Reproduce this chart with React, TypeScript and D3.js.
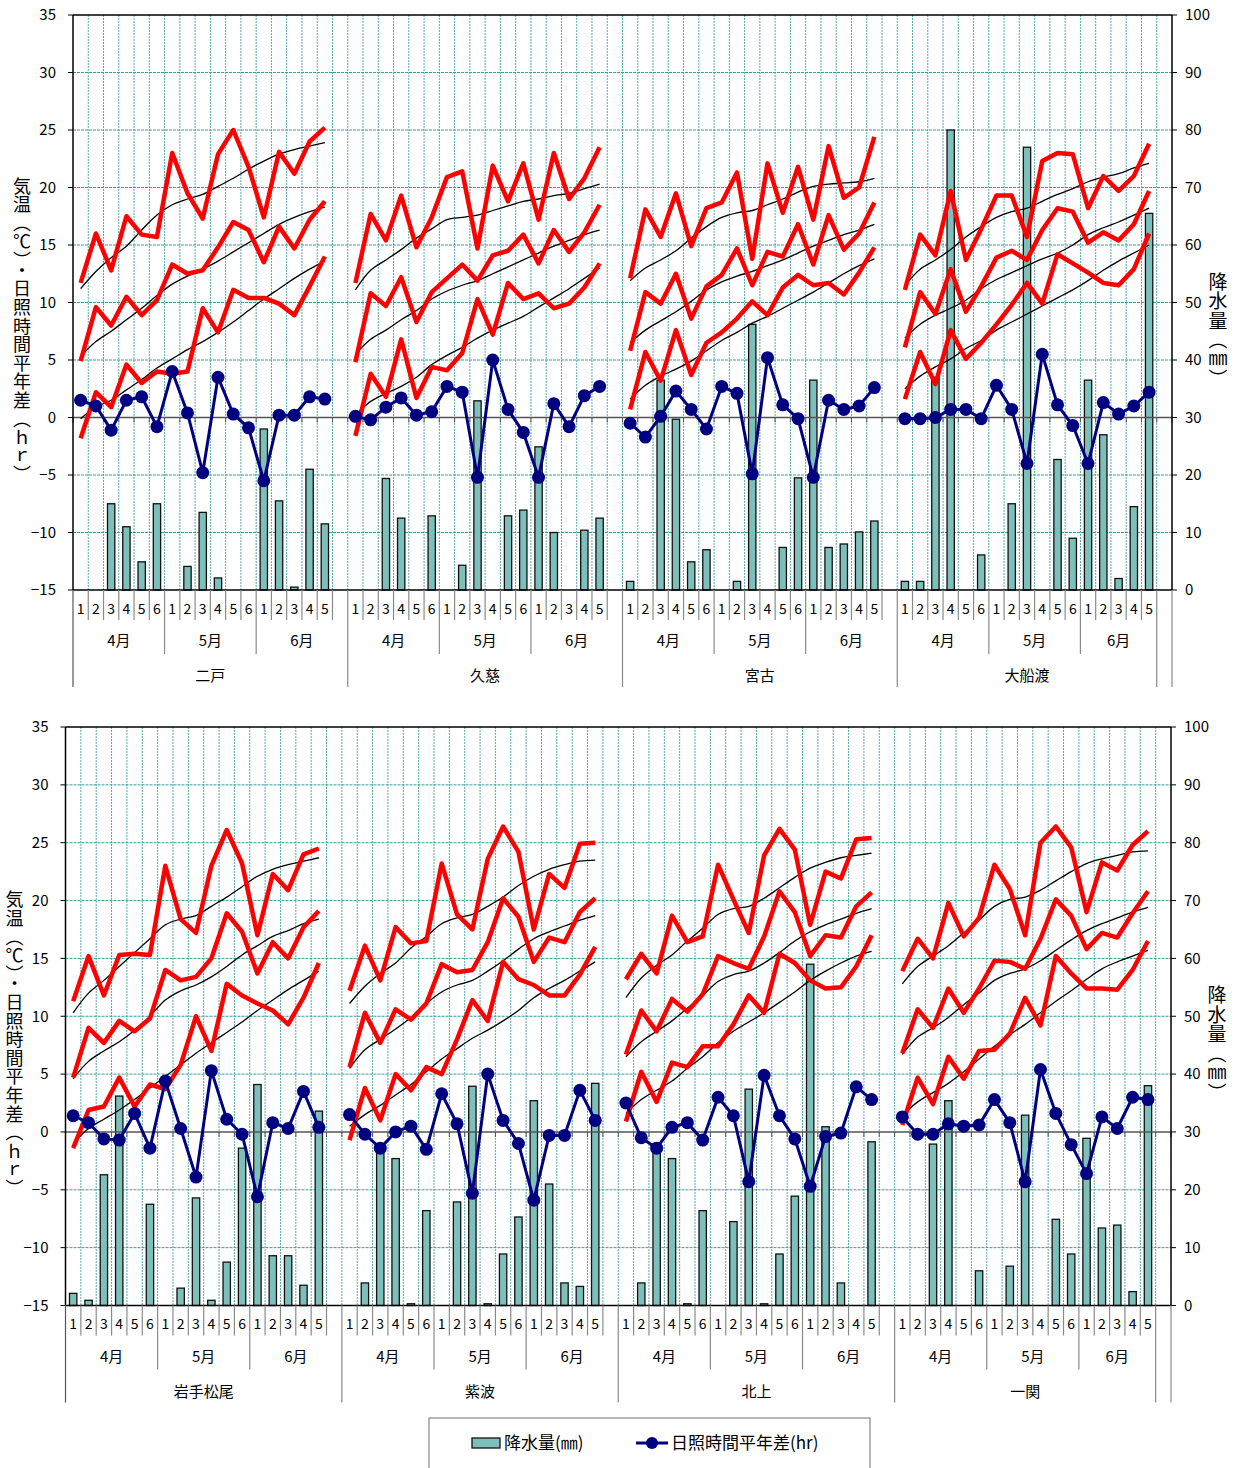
import React from 'react';
import * as d3 from 'd3';

const stations = ['二戸', '久慈', '宮古', '大船渡', '岩手松尾', '紫波', '北上', '一関'];
const periodLabels = ['1', '2', '3', '4', '5', '6', '1', '2', '3', '4', '5', '6', '1', '2', '3', '4', '5'];
const months = ['4月', '5月', '6月'];
const leftTicks = [-15, -10, -5, 0, 5, 10, 15, 20, 25, 30, 35];
const rightTicks = [0, 10, 20, 30, 40, 50, 60, 70, 80, 90, 100];

// 最高気温 (°C)
const tmax: number[][] = [
  [11.7, 16.0, 12.8, 17.5, 15.9, 15.7, 23.0, 19.5, 17.3, 22.9, 25.0, 21.8, 17.4, 23.1, 21.2, 24.0, 25.2],
  [11.7, 17.7, 15.4, 19.3, 14.8, 17.4, 20.9, 21.4, 14.7, 21.9, 18.8, 22.1, 17.2, 23.0, 19.0, 20.8, 23.5],
  [12.1, 18.1, 15.7, 19.5, 14.9, 18.2, 18.7, 21.3, 13.8, 22.1, 17.8, 21.8, 17.2, 23.6, 19.1, 20.0, 24.4],
  [11.1, 15.9, 14.1, 19.7, 13.7, 16.4, 19.3, 19.3, 15.7, 22.3, 23.0, 22.9, 18.2, 21.0, 19.7, 21.0, 23.8],
  [11.3, 15.2, 11.8, 15.3, 15.4, 15.3, 23.0, 18.4, 17.2, 23.0, 26.1, 23.2, 17.0, 22.3, 20.9, 24.0, 24.5],
  [12.2, 16.1, 13.1, 17.7, 16.3, 16.5, 23.2, 18.8, 17.5, 23.6, 26.4, 24.2, 17.5, 22.3, 21.1, 24.9, 25.0],
  [13.2, 15.4, 13.7, 18.7, 16.4, 16.9, 23.1, 20.1, 17.2, 23.9, 26.2, 24.4, 17.9, 22.5, 21.9, 25.3, 25.4],
  [13.9, 16.7, 15.0, 19.8, 16.9, 18.5, 23.1, 21.0, 17.0, 25.0, 26.4, 24.6, 19.0, 23.3, 22.6, 24.8, 26.0],
];
// 最高気温 平年値
const nmax: number[][] = [
  [11.2, 12.7, 13.9, 14.9, 16.3, 17.6, 18.5, 19.0, 19.4, 20.1, 20.8, 21.6, 22.3, 22.9, 23.3, 23.6, 23.9],
  [11.1, 12.8, 13.7, 14.6, 15.6, 16.4, 17.2, 17.4, 17.6, 18.0, 18.4, 18.8, 19.0, 19.3, 19.5, 19.9, 20.3],
  [11.9, 13.0, 13.7, 14.5, 15.6, 16.6, 17.4, 17.8, 18.0, 18.5, 19.0, 19.6, 20.1, 20.3, 20.4, 20.5, 20.8],
  [11.5, 12.9, 13.7, 14.6, 15.7, 16.6, 17.4, 17.9, 18.2, 18.8, 19.4, 19.9, 20.5, 20.9, 21.2, 21.7, 22.1],
  [10.3, 12.0, 13.1, 14.3, 15.5, 16.7, 17.9, 18.4, 18.7, 19.5, 20.3, 21.2, 22.1, 22.7, 23.1, 23.4, 23.7],
  [11.1, 12.6, 13.7, 14.6, 15.9, 16.9, 18.0, 18.5, 18.8, 19.5, 20.3, 21.3, 22.1, 22.7, 23.1, 23.4, 23.5],
  [11.6, 13.3, 14.4, 15.3, 16.5, 17.6, 18.8, 19.3, 19.5, 20.2, 21.1, 22.0, 22.8, 23.3, 23.7, 23.9, 24.1],
  [12.8, 14.3, 15.2, 16.1, 17.2, 18.3, 19.5, 20.1, 20.3, 20.9, 21.7, 22.5, 23.2, 23.6, 23.9, 24.2, 24.3],
];
// 平均気温
const tmean: number[][] = [
  [4.9, 9.6, 8.0, 10.5, 8.9, 10.2, 13.3, 12.5, 12.8, 14.8, 17.0, 16.3, 13.5, 16.6, 14.7, 17.2, 18.8],
  [4.8, 10.8, 9.7, 12.2, 8.3, 10.9, 12.1, 13.3, 11.9, 14.1, 14.5, 15.9, 13.4, 16.3, 14.4, 16.1, 18.5],
  [5.8, 10.9, 9.9, 12.5, 8.6, 11.4, 12.4, 14.7, 11.5, 14.4, 14.0, 16.8, 13.3, 17.6, 14.6, 16.0, 18.7],
  [6.1, 10.9, 9.0, 12.9, 9.2, 11.4, 13.9, 14.5, 13.7, 16.3, 18.2, 17.9, 15.2, 16.1, 15.4, 16.8, 19.7],
  [4.7, 9.0, 7.7, 9.6, 8.7, 9.8, 14.0, 13.1, 13.4, 15.0, 18.9, 17.3, 13.7, 16.4, 15.0, 17.7, 19.1],
  [5.6, 10.3, 7.7, 10.6, 9.7, 11.1, 14.5, 13.8, 14.0, 16.4, 20.2, 18.6, 14.7, 16.8, 16.4, 19.0, 20.2],
  [6.7, 10.5, 8.7, 11.5, 10.4, 11.9, 15.2, 14.6, 14.1, 16.9, 20.8, 19.0, 15.2, 17.0, 16.8, 19.5, 20.7],
  [6.8, 10.6, 9.0, 12.4, 10.3, 12.4, 14.8, 14.7, 14.1, 16.7, 20.1, 18.7, 15.8, 17.2, 16.8, 18.9, 20.8],
];
// 平均気温 平年値
const nmean: number[][] = [
  [5.3, 6.6, 7.5, 8.5, 9.5, 10.6, 11.6, 12.3, 12.9, 13.6, 14.4, 15.2, 16.0, 16.8, 17.4, 17.9, 18.3],
  [5.5, 6.8, 7.6, 8.5, 9.3, 10.3, 11.0, 11.5, 11.9, 12.5, 13.1, 13.7, 14.3, 14.9, 15.4, 15.9, 16.3],
  [6.5, 7.6, 8.4, 9.2, 10.1, 11.1, 11.8, 12.3, 12.7, 13.2, 13.7, 14.3, 14.9, 15.4, 15.9, 16.3, 16.8],
  [6.9, 8.1, 8.9, 9.5, 10.2, 11.2, 12.0, 12.6, 13.2, 13.8, 14.3, 15.0, 15.9, 16.5, 17.0, 17.6, 18.2],
  [4.6, 6.1, 7.0, 7.8, 8.8, 10.0, 11.4, 12.2, 12.7, 13.4, 14.3, 15.3, 16.1, 16.9, 17.4, 18.0, 18.4],
  [5.5, 7.1, 8.0, 8.9, 9.9, 11.1, 12.1, 12.7, 13.1, 13.9, 14.8, 15.8, 16.7, 17.3, 17.8, 18.3, 18.7],
  [6.5, 7.8, 8.7, 9.6, 10.7, 11.8, 13.0, 13.6, 13.9, 14.6, 15.5, 16.5, 17.3, 17.9, 18.4, 18.9, 19.3],
  [6.7, 8.2, 9.0, 9.9, 11.0, 12.0, 13.1, 13.7, 14.1, 14.8, 15.7, 16.6, 17.4, 18.0, 18.5, 19.0, 19.4],
];
// 最低気温
const tmin: number[][] = [
  [-1.8, 2.2, 0.9, 4.6, 3.0, 4.0, 3.8, 4.0, 9.5, 7.4, 11.1, 10.4, 10.4, 9.9, 8.9, 11.4, 14.0],
  [-1.6, 3.8, 1.8, 6.8, 1.7, 4.4, 4.1, 5.6, 10.3, 7.2, 11.7, 10.3, 10.8, 9.5, 9.9, 11.3, 13.4],
  [0.7, 5.7, 3.2, 7.6, 3.7, 6.5, 7.4, 8.6, 10.1, 8.9, 11.3, 12.4, 11.5, 11.7, 10.7, 12.6, 14.8],
  [1.6, 5.7, 2.9, 7.6, 5.1, 6.5, 8.1, 9.8, 11.7, 9.9, 14.2, 13.4, 12.6, 11.7, 11.5, 12.9, 16.0],
  [-1.4, 1.9, 2.2, 4.7, 2.2, 4.1, 3.7, 5.8, 10.0, 7.0, 12.8, 11.8, 11.1, 10.5, 9.3, 11.6, 14.6],
  [-0.7, 3.8, 1.0, 5.0, 3.6, 5.6, 5.0, 8.0, 11.4, 9.6, 14.7, 13.2, 12.7, 11.8, 11.8, 13.6, 16.0],
  [0.9, 5.2, 2.6, 6.0, 5.6, 7.4, 7.4, 9.3, 11.8, 10.3, 15.4, 14.6, 13.1, 12.4, 12.5, 14.3, 17.0],
  [0.6, 4.7, 2.4, 6.5, 4.6, 7.0, 7.1, 8.5, 11.6, 9.2, 15.2, 13.7, 12.4, 12.4, 12.3, 14.0, 16.5],
];
// 最低気温 平年値
const nmin: number[][] = [
  [-0.1, 0.9, 1.5, 2.4, 3.3, 4.3, 5.1, 5.9, 6.6, 7.4, 8.3, 9.3, 10.3, 11.2, 12.1, 12.9, 13.6],
  [0.2, 1.4, 2.1, 2.7, 3.5, 4.6, 5.4, 6.1, 6.9, 7.6, 8.2, 8.8, 9.6, 10.4, 11.2, 12.1, 13.0],
  [1.6, 2.8, 3.6, 4.2, 4.9, 5.8, 6.7, 7.4, 8.2, 8.8, 9.5, 10.2, 10.9, 11.7, 12.5, 13.2, 13.8],
  [2.5, 3.6, 4.4, 5.1, 6.0, 6.7, 7.6, 8.3, 9.0, 9.7, 10.4, 11.1, 11.9, 12.8, 13.6, 14.3, 15.0],
  [-1.0, 0.3, 1.1, 1.9, 2.8, 3.8, 4.8, 5.8, 6.8, 7.7, 8.6, 9.5, 10.5, 11.4, 12.3, 13.1, 13.9],
  [0.5, 1.5, 2.3, 3.2, 4.1, 5.2, 6.3, 7.2, 8.1, 8.8, 9.6, 10.5, 11.6, 12.4, 13.1, 13.9, 14.7],
  [1.6, 2.8, 3.6, 4.4, 5.5, 6.5, 7.7, 8.7, 9.5, 10.3, 11.2, 12.1, 13.1, 13.9, 14.6, 15.2, 15.6],
  [1.4, 2.6, 3.4, 4.2, 5.2, 6.3, 7.4, 8.4, 9.3, 10.3, 11.3, 12.2, 13.2, 14.1, 14.7, 15.2, 15.7],
];
// 日照時間平年差 (hr)
const sunshine: number[][] = [
  [1.5, 1.0, -1.1, 1.5, 1.8, -0.8, 4.0, 0.4, -4.8, 3.5, 0.3, -0.9, -5.5, 0.2, 0.2, 1.8, 1.6],
  [0.1, -0.2, 0.9, 1.7, 0.2, 0.5, 2.7, 2.2, -5.2, 5.0, 0.7, -1.3, -5.2, 1.2, -0.8, 1.9, 2.7],
  [-0.5, -1.7, 0.1, 2.3, 0.7, -1.0, 2.7, 2.1, -4.9, 5.2, 1.1, -0.1, -5.2, 1.5, 0.7, 1.0, 2.6],
  [-0.1, -0.1, 0.0, 0.7, 0.7, -0.1, 2.8, 0.7, -4.0, 5.5, 1.1, -0.7, -4.0, 1.3, 0.3, 1.0, 2.2],
  [1.4, 0.8, -0.6, -0.7, 1.6, -1.4, 4.4, 0.3, -3.9, 5.3, 1.1, -0.2, -5.6, 0.8, 0.3, 3.5, 0.4],
  [1.5, -0.2, -1.4, 0.0, 0.5, -1.5, 3.3, 0.7, -5.3, 5.0, 1.0, -1.0, -5.9, -0.3, -0.3, 3.6, 1.0],
  [2.5, -0.5, -1.4, 0.4, 0.8, -0.7, 3.0, 1.4, -4.3, 4.9, 1.4, -0.6, -4.7, -0.4, -0.1, 3.9, 2.8],
  [1.3, -0.2, -0.2, 0.7, 0.5, 0.6, 2.8, 0.8, -4.3, 5.4, 1.6, -1.1, -3.6, 1.3, 0.3, 3.0, 2.8],
];
// 降水量 (mm)
const precip: number[][] = [
  [0, 0, 15.0, 11.0, 4.9, 15.0, 0, 4.1, 13.5, 2.1, 0, 0, 28.0, 15.5, 0.5, 21.0, 11.5],
  [0, 0, 19.4, 12.5, 0, 12.9, 0, 4.3, 32.9, 0, 12.9, 13.9, 24.9, 10.0, 0, 10.4, 12.5],
  [1.5, 0, 36.5, 29.7, 4.9, 7.0, 0, 1.5, 46.2, 0, 7.4, 19.5, 36.5, 7.4, 8.0, 10.1, 12.0],
  [1.5, 1.5, 37.0, 80.0, 0, 6.1, 0, 15.0, 77.0, 0, 22.7, 9.0, 36.5, 27.0, 2.0, 14.5, 65.5],
  [2.1, 0.9, 22.6, 36.2, 0, 17.5, 0, 3.0, 18.6, 0.9, 7.5, 27.2, 38.2, 8.6, 8.6, 3.5, 33.6],
  [0, 3.9, 26.6, 25.4, 0.3, 16.4, 0, 17.9, 37.9, 0.3, 8.9, 15.3, 35.4, 21.0, 3.9, 3.3, 38.4],
  [0, 3.9, 26.3, 25.4, 0.3, 16.4, 0, 14.5, 37.4, 0.3, 8.9, 18.9, 59.0, 30.9, 3.9, 0, 28.3],
  [0, 0, 27.9, 35.4, 0, 6.0, 0, 6.8, 32.9, 0, 14.9, 8.9, 28.9, 13.4, 13.9, 2.4, 38.0],
];

const FONT = "'MS PGothic','Noto Sans CJK JP',sans-serif";
const GRID = '#3a9e9e';
const SEP = '#8a8a8a';

type PanelProps = { first: number; left: number; right: number; top: number; bottom: number };

function Panel({ first, left, right, top, bottom }: PanelProps) {
  const x = d3.scaleLinear().domain([0, 72]).range([left, right]);
  const yL = d3.scaleLinear().domain([-15, 35]).range([bottom, top]);
  const yR = d3.scaleLinear().domain([0, 100]).range([bottom, top]);
  const slotW = x(1) - x(0);
  const barW = slotW * 0.48;
  const titleY = (top + bottom) / 2 + 28;
  const boundaries = d3.range(1, 72);
  const stIdx = [0, 1, 2, 3];

  const lineFor = (s: number) =>
    d3.line<number>().x((_, i) => x(18 * s + i + 0.5)).y((d) => yL(d));
  const smoothFor = (s: number) =>
    d3
      .line<number>()
      .x((_, i) => x(18 * s + i + 0.5))
      .y((d) => yL(d))
      .curve(d3.curveCatmullRom.alpha(0.5));

  return (
    <g>
      {/* grid */}
      {leftTicks.filter((t) => t !== -15 && t !== 35 && t !== 0).map((t) => (
        <line key={'h' + t} x1={left} x2={right} y1={yL(t)} y2={yL(t)} stroke={GRID} strokeWidth={1} strokeDasharray="3 1" />
      ))}
      {boundaries.map((b) => (
        <line key={'v' + b} x1={x(b)} x2={x(b)} y1={top} y2={bottom} stroke={GRID} strokeOpacity={0.85} strokeWidth={1} strokeDasharray="2 1" />
      ))}

      {/* bars */}
      {stIdx.map((s) =>
        precip[first + s].map((p, i) =>
          p > 0 ? (
            <rect
              key={`b${s}-${i}`}
              x={x(18 * s + i + 0.5) - barW / 2}
              y={yR(p)}
              width={barW}
              height={yR(0) - yR(p)}
              fill="#7cbfbb"
              stroke="#111"
              strokeWidth={1.3}
            />
          ) : null
        )
      )}

      {/* zero line */}
      <line x1={left} x2={right} y1={yL(0)} y2={yL(0)} stroke="#555" strokeWidth={1.5} />
      {d3.range(0, 73).map((b) => (
        <line key={'zt' + b} x1={x(b)} x2={x(b)} y1={yL(0)} y2={yL(0) + 5} stroke="#555" strokeWidth={1} />
      ))}

      {/* normals */}
      {stIdx.map((s) => (
        <g key={'n' + s}>
          {[nmax, nmean, nmin].map((arr, k) => (
            <path key={k} d={smoothFor(s)(arr[first + s]) || ''} fill="none" stroke="#000" strokeWidth={1.3} />
          ))}
        </g>
      ))}
      {/* temperatures */}
      {stIdx.map((s) => (
        <g key={'t' + s}>
          {[tmax, tmean, tmin].map((arr, k) => (
            <path key={k} d={lineFor(s)(arr[first + s]) || ''} fill="none" stroke="#ff0000" strokeWidth={4.5} strokeLinejoin="round" />
          ))}
        </g>
      ))}
      {/* sunshine */}
      {stIdx.map((s) => (
        <g key={'s' + s}>
          <path d={lineFor(s)(sunshine[first + s]) || ''} fill="none" stroke="#000080" strokeWidth={3} />
          {sunshine[first + s].map((v, i) => (
            <circle key={i} cx={x(18 * s + i + 0.5)} cy={yL(v)} r={6.5} fill="#000080" />
          ))}
        </g>
      ))}

      {/* frame */}
      <line x1={left} x2={right} y1={top} y2={top} stroke="#000" strokeWidth={1.5} />
      <line x1={left} x2={right} y1={bottom} y2={bottom} stroke="#000" strokeWidth={1.5} />
      <line x1={left} x2={left} y1={top} y2={bottom} stroke="#000" strokeWidth={1.5} />
      <line x1={right} x2={right} y1={top} y2={bottom} stroke="#000" strokeWidth={1.5} />

      {/* left axis */}
      {leftTicks.map((t) => (
        <g key={'lt' + t}>
          <line x1={left - 5} x2={left} y1={yL(t)} y2={yL(t)} stroke="#000" strokeWidth={1} />
          <text x={left - 17} y={yL(t)} dy="0.35em" textAnchor="end" fontSize={15} fontFamily={FONT} fill="#000">
            {t < 0 ? '−' + Math.abs(t) : t}
          </text>
        </g>
      ))}
      {/* right axis */}
      {rightTicks.map((t) => (
        <g key={'rt' + t}>
          <line x1={right} x2={right + 5} y1={yR(t)} y2={yR(t)} stroke="#000" strokeWidth={1} />
          <text x={right + 13} y={yR(t)} dy="0.35em" textAnchor="start" fontSize={15} fontFamily={FONT} fill="#000">
            {t}
          </text>
        </g>
      ))}

      {/* axis titles */}
      <text
        x={left - 51}
        y={titleY}
        textAnchor="middle"
        fontSize={18}
        fontFamily={FONT}
        fill="#000"
        style={{ writingMode: 'vertical-rl', letterSpacing: '0.6px' } as React.CSSProperties}
      >
        気温（℃）・日照時間平年差（ｈｒ）
      </text>
      <text
        x={right + 46}
        y={titleY}
        textAnchor="middle"
        fontSize={19}
        fontFamily={FONT}
        fill="#000"
        style={{ writingMode: 'vertical-rl', letterSpacing: '0.5px' } as React.CSSProperties}
      >
        降水量（㎜）
      </text>

      {/* category axis */}
      <line x1={left} x2={left} y1={bottom} y2={bottom + 97} stroke="#555" strokeWidth={1.2} />
      <line x1={right} x2={right} y1={bottom} y2={bottom + 97} stroke={SEP} strokeWidth={1.2} />
      {stIdx.map((s) => {
        const base = 18 * s;
        const end = s === 3 ? 71 : base + 18;
        const periodTicks = [1, 2, 3, 4, 5, 7, 8, 9, 10, 11, 13, 14, 15, 16, 17].map((k) => base + k).filter((b) => b < end);
        const monthCenters = [base + 3, base + 9, (base + 12 + end) / 2];
        return (
          <g key={'c' + s}>
            {periodTicks.map((b) => (
              <line key={'p' + b} x1={x(b)} x2={x(b)} y1={bottom} y2={bottom + 30} stroke={SEP} strokeWidth={1.2} />
            ))}
            {[base + 6, base + 12].map((b) => (
              <line key={'m' + b} x1={x(b)} x2={x(b)} y1={bottom} y2={bottom + 64} stroke={SEP} strokeWidth={1.2} />
            ))}
            <line x1={x(end)} x2={x(end)} y1={bottom} y2={bottom + 97} stroke={SEP} strokeWidth={1.2} />
            {periodLabels.map((p, i) => (
              <text key={'pl' + i} x={x(base + i + 0.5)} y={bottom + 19} dy="0.35em" textAnchor="middle" fontSize={14} fontFamily={FONT} fill="#000">
                {p}
              </text>
            ))}
            {months.map((m, k) => (
              <text key={'ml' + k} x={x(monthCenters[k])} y={bottom + 51} dy="0.35em" textAnchor="middle" fontSize={15} fontFamily={FONT} fill="#000">
                {m}
              </text>
            ))}
            <text x={x((base + end) / 2)} y={bottom + 86} dy="0.35em" textAnchor="middle" fontSize={15} fontFamily={FONT} fill="#000">
              {stations[first + s]}
            </text>
          </g>
        );
      })}
    </g>
  );
}

export default function App() {
  return (
    <svg
      width={1240}
      height={1468}
      viewBox="0 0 1240 1468"
      style={{ position: 'absolute', left: 0, top: 0, background: '#fff' }}
    >
      <rect x={0} y={0} width={1240} height={1468} fill="#fff" />
      <Panel first={0} left={73} right={1172} top={15} bottom={590} />
      <Panel first={4} left={65.5} right={1171} top={727} bottom={1305.5} />
      {/* legend */}
      <g>
        <rect x={429} y={1418} width={441} height={62} fill="#fff" stroke="#888" strokeWidth={1.2} />
        <rect x={472} y={1438} width={28} height={10} fill="#7cbfbb" stroke="#111" strokeWidth={1.3} />
        <text x={504} y={1443} dy="0.35em" fontSize={17} fontFamily={FONT} fill="#000">
          降水量(㎜)
        </text>
        <line x1={636} x2={668} y1={1443} y2={1443} stroke="#000080" strokeWidth={3} />
        <circle cx={652} cy={1443} r={6} fill="#000080" />
        <text x={671} y={1443} dy="0.35em" fontSize={17} fontFamily={FONT} fill="#000">
          日照時間平年差(hr)
        </text>
      </g>
    </svg>
  );
}
